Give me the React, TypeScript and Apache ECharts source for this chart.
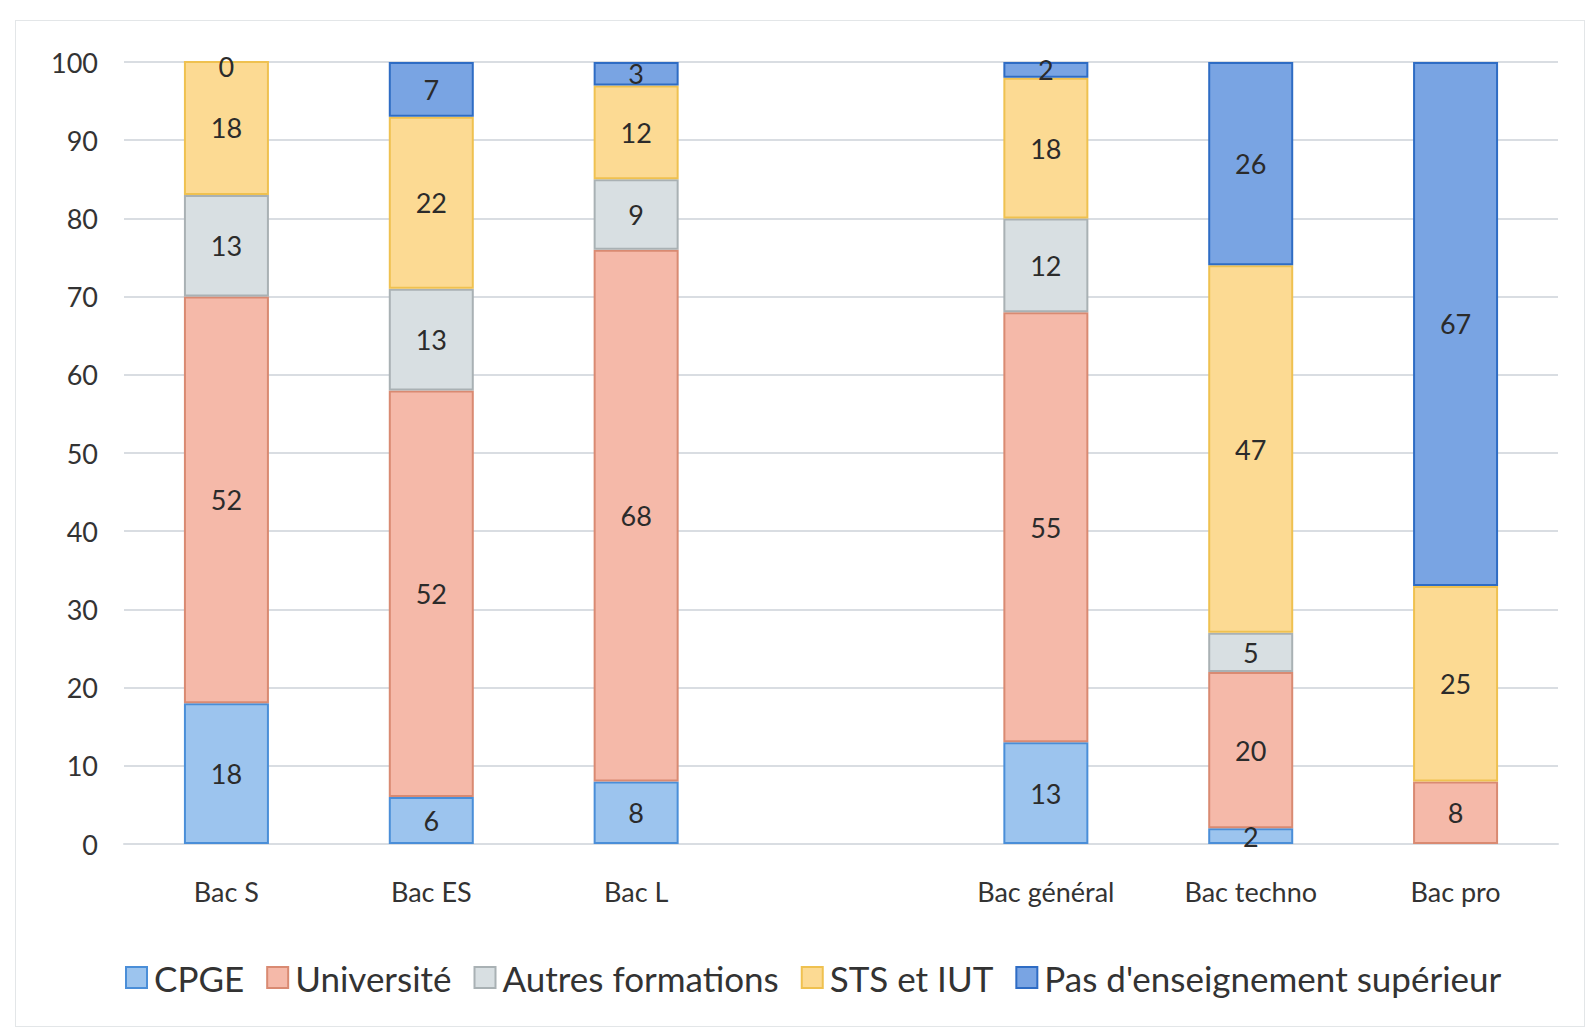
import React, { useEffect, useRef } from "react";
import * as echarts from "echarts";

const categories = ["Bac S", "Bac ES", "Bac L", "", "Bac général", "Bac techno", "Bac pro"];
const cpge: (number | string)[] = [18, 6, 8, "-", 13, 2, "-"];
const universite: (number | string)[] = [52, 52, 68, "-", 55, 20, 8];
const autres: (number | string)[] = [13, 13, 9, "-", 12, 5, "-"];
const sts: (number | string)[] = [18, 22, 12, "-", 18, 47, 25];
const pas: (number | string)[] = [0, 7, 3, "-", 2, 26, 67];
const yTicks = [0, 10, 20, 30, 40, 50, 60, 70, 80, 90, 100];
const Y_MAX = 100;

const FONT = "Lato, 'Open Sans', sans-serif";

export default function App() {
  const ref = useRef<HTMLDivElement>(null);
  useEffect(() => {
    if (!ref.current) return;
    const chart = echarts.init(ref.current, null, { renderer: "svg" });
    const all = [cpge, universite, autres, sts, pas];
    const num = (v: number | string) => (typeof v === "number" ? v : 0);
    const totals = categories.map((_, i) => all.reduce((s, arr) => s + num(arr[i]), 0));
    const labelStyle = {
      color: "#2b2b2b",
      fontSize: 27,
      fontFamily: FONT,
    };
    const zeroMarks = (data: (number | string)[]) =>
      data
        .map((v, i) =>
          v === 0 ? { coord: [categories[i], Math.min(totals[i], Y_MAX)], value: 0 } : null
        )
        .filter((d) => d !== null);
    const mk = (name: string, data: (number | string)[], fill: string, border: string) => {
      const marks = zeroMarks(data);
      return {
        name,
        type: "bar",
        stack: "total",
        data: data.map((v) => (v === 0 ? "-" : v)),
        barWidth: 85,
        itemStyle: { color: fill, borderColor: border, borderWidth: 2 },
        label: { show: true, position: "inside", ...labelStyle },
        markPoint: marks.length
          ? {
              symbol: "rect",
              symbolSize: 1,
              itemStyle: { color: "rgba(0,0,0,0)" },
              label: { show: true, position: "inside", formatter: "{c}", offset: [0, 4], ...labelStyle },
              data: marks,
            }
          : undefined,
      };
    };
    chart.setOption({
      animation: false,
      backgroundColor: "rgba(0,0,0,0)",
      textStyle: { fontFamily: FONT },
      grid: { left: 124, right: 27, top: 62, bottom: 192, containLabel: false },
      legend: {
        bottom: 36,
        left: 120,
        itemWidth: 21,
        itemHeight: 21,
        itemGap: 22,
        icon: "rect",
        textStyle: { fontSize: 35, color: "#333", fontFamily: FONT, padding: [0, 0, 0, 2] },
        data: ["CPGE", "Université", "Autres formations", "STS et IUT", "Pas d'enseignement supérieur"],
      },
      xAxis: {
        type: "category",
        data: categories,
        axisLine: { show: true, lineStyle: { color: "#d9dde2", width: 2 } },
        axisTick: { show: false },
        axisLabel: { fontSize: 27, color: "#333", margin: 34, fontFamily: FONT, interval: 0 },
      },
      yAxis: {
        type: "value",
        min: 0,
        max: Y_MAX,
        interval: 10,
        axisLine: { show: false },
        axisTick: { show: false },
        axisLabel: {
          fontSize: 27,
          color: "#333",
          margin: 26,
          fontFamily: FONT,
          formatter: (v: number) => (yTicks.includes(v) ? String(v) : ""),
        },
        splitLine: { lineStyle: { color: "#d9dde2", width: 2 } },
      },
      series: [
        mk("CPGE", cpge, "#9cc4ee", "#4a8ed8"),
        mk("Université", universite, "#f5b9a9", "#d98a72"),
        mk("Autres formations", autres, "#d8dfe2", "#a9b1b4"),
        mk("STS et IUT", sts, "#fcda93", "#efc150"),
        mk("Pas d'enseignement supérieur", pas, "#79a4e3", "#2e6cc4"),
      ],
    });
    return () => chart.dispose();
  }, []);
  return (
    <div
      style={{
        position: "fixed",
        left: 0,
        top: 0,
        width: 1585,
        height: 1036,
        background: "#fff",
      }}
    >
      <div
        style={{
          position: "absolute",
          left: 15,
          top: 20,
          width: 1585 - 15,
          height: 1027 - 20,
          border: "1px solid #e3e6e8",
          boxSizing: "border-box",
        }}
      />
      <div ref={ref} style={{ position: "absolute", left: 0, top: 0, width: 1585, height: 1036 }} />
    </div>
  );
}
